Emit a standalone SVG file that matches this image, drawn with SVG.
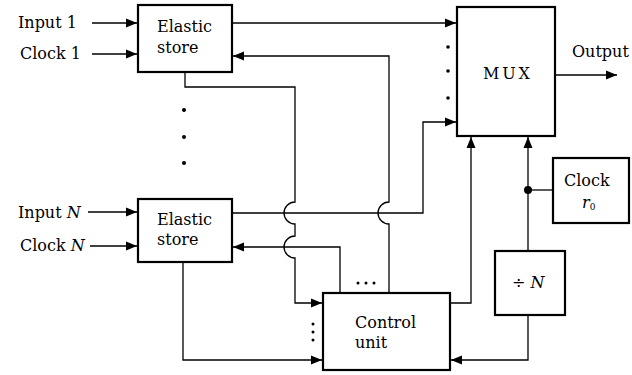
<svg xmlns="http://www.w3.org/2000/svg" width="632" height="375" viewBox="0 0 632 375">
<defs>
<marker id="ah" markerUnits="userSpaceOnUse" markerWidth="12" markerHeight="10" refX="11" refY="5" orient="auto">
<path d="M0,0.5 L11,5 L0,9.5 Z" fill="#000"/>
</marker>
<style>
.box{fill:#fff;stroke:#000;stroke-width:2.2}
.ln{fill:none;stroke:#000;stroke-width:1.3}
.t{font-family:"DejaVu Serif","Liberation Serif",serif;font-size:16px;fill:#000}
.it{font-style:italic}
</style>
</defs>
<rect width="632" height="375" fill="#fff"/>

<g id="connectors">
<path class="ln" d="M92,23 H137" marker-end="url(#ah)"/>
<path class="ln" d="M92,54 H137" marker-end="url(#ah)"/>
<path class="ln" d="M88,212 H137" marker-end="url(#ah)"/>
<path class="ln" d="M90,246 H137" marker-end="url(#ah)"/>
<path class="ln" d="M232,23 H456" marker-end="url(#ah)"/>
<path class="ln" d="M389,293 V224 A11,11 0 0 1 389,202 V56 H233" marker-end="url(#ah)"/>
<path class="ln" d="M185,72 V87 H295 V202 A11,11 0 0 0 295,224 V236 A11,11 0 0 0 295,258 V303 H322" marker-end="url(#ah)"/>
<path class="ln" d="M232,213 H423 V122 H456" marker-end="url(#ah)"/>
<path class="ln" d="M340,293 V247 H233" marker-end="url(#ah)"/>
<path class="ln" d="M183,262 V360 H322" marker-end="url(#ah)"/>
<path class="ln" d="M450,303 H471 V137" marker-end="url(#ah)"/>
<path class="ln" d="M528,251 V137" marker-end="url(#ah)"/>
<path class="ln" d="M528,190 H553"/>
<circle cx="528" cy="190" r="4" fill="#000"/>
<path class="ln" d="M528,315 V360 H451" marker-end="url(#ah)"/>
<path class="ln" d="M555,75 H617" marker-end="url(#ah)"/>
</g>

<g id="dots" fill="#000">
<circle cx="184" cy="110" r="2"/>
<circle cx="184" cy="137" r="2"/>
<circle cx="184" cy="163" r="2"/>
<circle cx="448" cy="47" r="1.8"/>
<circle cx="448" cy="71" r="1.8"/>
<circle cx="448" cy="98" r="1.8"/>
<circle cx="313" cy="324" r="1.5"/>
<circle cx="313" cy="332" r="1.5"/>
<circle cx="313" cy="340" r="1.5"/>
<circle cx="358" cy="283" r="1.5"/>
<circle cx="366" cy="283" r="1.5"/>
<circle cx="374" cy="283" r="1.5"/>
</g>

<g id="labels">
<text class="t" x="18" y="28">Input  1</text>
<text class="t" x="20" y="59">Clock  1</text>
<text class="t" x="18" y="218">Input <tspan class="it">N</tspan></text>
<text class="t" x="20" y="251">Clock <tspan class="it">N</tspan></text>
<text class="t" x="572" y="57">Output</text>
</g>

<g id="elastic1">
<rect class="box" x="138" y="5" width="94" height="67"/>
<text class="t" x="157" y="32">Elastic</text>
<text class="t" x="157" y="53">store</text>
</g>

<g id="elasticN">
<rect class="box" x="138" y="199" width="94" height="63"/>
<text class="t" x="157" y="225">Elastic</text>
<text class="t" x="157" y="245">store</text>
</g>

<g id="mux">
<rect class="box" x="457" y="7" width="98" height="129"/>
<text class="t" x="483" y="79" textLength="47">MUX</text>
</g>

<g id="clock">
<rect class="box" x="553" y="158" width="76" height="65"/>
<text class="t" x="564" y="186">Clock</text>
<text class="t it" x="582" y="208" font-size="14">r<tspan font-size="9" dy="2" font-style="normal">0</tspan></text>
</g>

<g id="divider">
<rect class="box" x="495" y="251" width="70" height="64"/>
<text class="t" x="512" y="288">÷ <tspan class="it">N</tspan></text>
</g>

<g id="control">
<rect class="box" x="323" y="293" width="127" height="77"/>
<text class="t" x="355" y="328">Control</text>
<text class="t" x="355" y="348">unit</text>
</g>
</svg>
